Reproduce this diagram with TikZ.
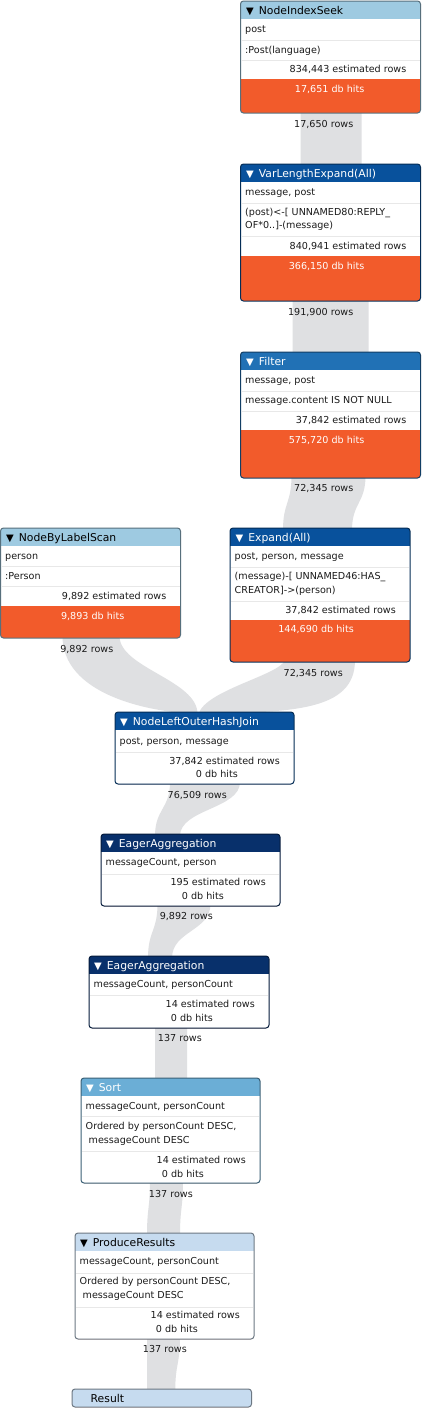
\documentclass[tikz,border=0pt]{standalone}
\usepackage{fontspec}
\setmainfont{DejaVu Sans}
\usetikzlibrary{calc,positioning}
\definecolor{hdLight}{HTML}{9ECAE1}
\definecolor{hdDeep}{HTML}{08519C}
\definecolor{hdMid}{HTML}{2171B5}
\definecolor{hdNavy}{HTML}{08306B}
\definecolor{hdSoft}{HTML}{6BAED6}
\definecolor{hdPale}{HTML}{C6DBEF}
\definecolor{hitsOrange}{HTML}{F25B2B}
\definecolor{planPipe}{HTML}{DFE0E2}
\definecolor{planSep}{HTML}{E8E8E8}
\definecolor{planInk}{HTML}{1A1A1A}
\newcommand{\bodyfont}{\fontsize{9.6}{13.4}\selectfont}
\newcommand{\hdfont}{\fontsize{10.8}{12}\selectfont}
\newcommand{\hdtri}{{\fontsize{10}{10}\selectfont ▼}\hspace{5pt}}
% white card, coloured header strip, orange db-hits strip, border
\newcommand{\opbody}[3]{%
  \begin{scope}
    \clip[rounded corners=3pt] (#1.north west) rectangle (#1.south east);
    \fill[white] (#1.north west) rectangle (#1.south east);
    \fill[#2] (#1.north west) rectangle ($(#1.north east)+(0,18)$);
    \fill[hitsOrange] ($(#1.south west)+(0,-#3)$) rectangle (#1.south east);
  \end{scope}
  \draw[rounded corners=3pt, line width=1pt, draw=#2!55!black] (#1.north west) rectangle (#1.south east);}
% grey row-count ribbon from the bottom of one operator to the top of the next
\newcommand{\planpipe}[6]{%
  \fill[pipe] let \p1=(#1.south), \p2=(#4.north), \p3=($(#1.south)!0.5!(#4.north)$) in
    (\x1+#2pt,\y1+2pt) .. controls (\x1+#2pt,\y3) and (\x2+#5pt,\y3) .. (\x2+#5pt,\y2-2pt)
    -- (\x2+#6pt,\y2-2pt) .. controls (\x2+#6pt,\y3) and (\x1+#3pt,\y3) .. (\x1+#3pt,\y1+2pt) -- cycle;}
\pgfdeclarelayer{pipes}
\pgfsetlayers{pipes,main}
\tikzset{
    opframe/.style={rectangle, anchor=north west, inner sep=0pt, outer sep=0pt, minimum width=180pt},
    hdtext/.style={anchor=west, inner sep=0pt, font=\hdfont, text height=8.2pt, text depth=0.6pt},
    celltext/.style={anchor=west, inner sep=0pt, font=\bodyfont, text=planInk, text height=7.4pt, text depth=0.8pt},
    wraptext/.style={anchor=west, inner sep=0pt, font=\bodyfont, text=planInk, align=left},
    esttext/.style={anchor=east, inner sep=0pt, font=\bodyfont, text=planInk, text height=7.4pt, text depth=0.8pt},
    hitstext/.style={esttext, text=white},
    rowslabel/.style={esttext},
    sepline/.style={draw=planSep, line width=0.8pt},
    pipe/.style={fill=planPipe}
}
\begin{document}
\begin{tikzpicture}[x=1pt,y=-1pt]
\useasboundingbox (0,0) rectangle (422,1408);

% NodeIndexSeek
\node[opframe, minimum height=112pt] (seek) at (240.5,1) {};
\opbody{seek}{hdLight}{34}
\foreach \s in {39,59} \draw[sepline] ($(seek.north west)+(1,\s)$) -- ($(seek.north east)+(-1,\s)$);
\node[hdtext, text=black] (seekHd) at ($(seek.north west)+(5.5,9.5)$) {\hdtri NodeIndexSeek};
\node[celltext] (seekC1) at ($(seek.north west)+(4.5,28.5)$) {post};
\node[celltext] (seekC2) at ($(seek.north west)+(4.5,49)$) {:Post(language)};
\node[esttext] (seekEst) at ($(seek.north west)+(166,68.5)$) {834,443 estimated rows};
\node[hitstext] (seekHits) at ($(seek.north west)+(124,88)$) {17,651 db hits};
\node[rowslabel] (seekRows) at ($(seek.south west)+(113,11.5)$) {17,650 rows};

% VarLengthExpand(All)
\node[opframe, minimum height=137pt] (varlen) at (240.5,164) {};
\opbody{varlen}{hdDeep}{45}
\foreach \s in {39,72} \draw[sepline] ($(varlen.north west)+(1,\s)$) -- ($(varlen.north east)+(-1,\s)$);
\node[hdtext, text=white] (varlenHd) at ($(varlen.north west)+(5.5,9.5)$) {\hdtri VarLengthExpand(All)};
\node[celltext] (varlenC1) at ($(varlen.north west)+(4.5,28.5)$) {message, post};
\node[wraptext] (varlenC2) at ($(varlen.north west)+(4.5,55.5)$) {(post)<-[ UNNAMED80:REPLY\_\\OF*0..]-(message)};
\node[esttext] (varlenEst) at ($(varlen.north west)+(166,82.5)$) {840,941 estimated rows};
\node[hitstext] (varlenHits) at ($(varlen.north west)+(124,102.5)$) {366,150 db hits};
\node[rowslabel] (varlenRows) at ($(varlen.south west)+(113,11.3)$) {191,900 rows};

% Filter
\node[opframe, minimum height=126pt] (filter) at (240.5,352) {};
\opbody{filter}{hdMid}{48}
\foreach \s in {39,59} \draw[sepline] ($(filter.north west)+(1,\s)$) -- ($(filter.north east)+(-1,\s)$);
\node[hdtext, text=white] (filterHd) at ($(filter.north west)+(5.5,9.5)$) {\hdtri Filter};
\node[celltext] (filterC1) at ($(filter.north west)+(4.5,28.5)$) {message, post};
\node[celltext] (filterC2) at ($(filter.north west)+(4.5,48)$) {message.content IS NOT NULL};
\node[esttext] (filterEst) at ($(filter.north west)+(166,68.5)$) {37,842 estimated rows};
\node[hitstext] (filterHits) at ($(filter.north west)+(124,88.5)$) {575,720 db hits};
\node[rowslabel] (filterRows) at ($(filter.south west)+(113,10.5)$) {72,345 rows};

% NodeByLabelScan
\node[opframe, minimum height=110pt] (labelscan) at (0.5,528) {};
\opbody{labelscan}{hdLight}{32}
\foreach \s in {38.5,58.5} \draw[sepline] ($(labelscan.north west)+(1,\s)$) -- ($(labelscan.north east)+(-1,\s)$);
\node[hdtext, text=black] (labelscanHd) at ($(labelscan.north west)+(5.5,9.5)$) {\hdtri NodeByLabelScan};
\node[celltext] (labelscanC1) at ($(labelscan.north west)+(4.5,28)$) {person};
\node[celltext] (labelscanC2) at ($(labelscan.north west)+(4.5,48)$) {:Person};
\node[esttext] (labelscanEst) at ($(labelscan.north west)+(166,68.5)$) {9,892 estimated rows};
\node[hitstext] (labelscanHits) at ($(labelscan.north west)+(124,88.5)$) {9,893 db hits};
\node[rowslabel] (labelscanRows) at ($(labelscan.south west)+(113,11.3)$) {9,892 rows};

% Expand(All)
\node[opframe, minimum height=134pt] (expand) at (230,528) {};
\opbody{expand}{hdDeep}{42.5}
\foreach \s in {39,73} \draw[sepline] ($(expand.north west)+(1,\s)$) -- ($(expand.north east)+(-1,\s)$);
\node[hdtext, text=white] (expandHd) at ($(expand.north west)+(5.5,9.5)$) {\hdtri Expand(All)};
\node[celltext] (expandC1) at ($(expand.north west)+(4.5,28)$) {post, person, message};
\node[wraptext] (expandC2) at ($(expand.north west)+(4.5,55.7)$) {(message)-[ UNNAMED46:HAS\_\\CREATOR]->(person)};
\node[esttext] (expandEst) at ($(expand.north west)+(166,82)$) {37,842 estimated rows};
\node[hitstext] (expandHits) at ($(expand.north west)+(124,101)$) {144,690 db hits};
\node[rowslabel] (expandRows) at ($(expand.south west)+(113,10.7)$) {72,345 rows};

% NodeLeftOuterHashJoin
\node[opframe, minimum width=179pt, minimum height=72pt] (join) at (115,712) {};
\opbody{join}{hdDeep}{0}
\draw[sepline] ($(join.north west)+(1,40.3)$) -- ($(join.north east)+(-1,40.3)$);
\node[hdtext, text=white] (joinHd) at ($(join.north west)+(5,9.5)$) {\hdtri NodeLeftOuterHashJoin};
\node[celltext] (joinC1) at ($(join.north west)+(4.5,29)$) {post, person, message};
\node[esttext] (joinEst) at ($(join.north west)+(165,48.7)$) {37,842 estimated rows};
\node[esttext] (joinHits) at ($(join.north west)+(123,62)$) {0 db hits};
\node[rowslabel] (joinRows) at ($(join.south west)+(112,11)$) {76,509 rows};

% EagerAggregation (person)
\node[opframe, minimum width=179pt, minimum height=72pt] (aggone) at (101,834) {};
\opbody{aggone}{hdNavy}{0}
\draw[sepline] ($(aggone.north west)+(1,40.3)$) -- ($(aggone.north east)+(-1,40.3)$);
\node[hdtext, text=white] (aggoneHd) at ($(aggone.north west)+(5,9.5)$) {\hdtri EagerAggregation};
\node[celltext] (aggoneC1) at ($(aggone.north west)+(4.5,28.3)$) {messageCount, person};
\node[esttext] (aggoneEst) at ($(aggone.north west)+(165,48.3)$) {195 estimated rows};
\node[esttext] (aggoneHits) at ($(aggone.north west)+(123,62)$) {0 db hits};
\node[rowslabel] (aggoneRows) at ($(aggone.south west)+(112,10)$) {9,892 rows};

% EagerAggregation (personCount)
\node[opframe, minimum height=72pt] (aggtwo) at (89,956) {};
\opbody{aggtwo}{hdNavy}{0}
\draw[sepline] ($(aggtwo.north west)+(1,39.7)$) -- ($(aggtwo.north east)+(-1,39.7)$);
\node[hdtext, text=white] (aggtwoHd) at ($(aggtwo.north west)+(5,9.5)$) {\hdtri EagerAggregation};
\node[celltext] (aggtwoC1) at ($(aggtwo.north west)+(4.5,28)$) {messageCount, personCount};
\node[esttext] (aggtwoEst) at ($(aggtwo.north west)+(166,48.3)$) {14 estimated rows};
\node[esttext] (aggtwoHits) at ($(aggtwo.north west)+(124,62.3)$) {0 db hits};
\node[rowslabel] (aggtwoRows) at ($(aggtwo.south west)+(113,10)$) {137 rows};

% Sort
\node[opframe, minimum width=179pt, minimum height=105pt] (sort) at (81,1078) {};
\opbody{sort}{hdSoft}{0}
\foreach \s in {38.5,73} \draw[sepline] ($(sort.north west)+(1,\s)$) -- ($(sort.north east)+(-1,\s)$);
\node[hdtext, text=white] (sortHd) at ($(sort.north west)+(5,9.5)$) {\hdtri Sort};
\node[celltext] (sortC1) at ($(sort.north west)+(4.5,28)$) {messageCount, personCount};
\node[wraptext] (sortC2) at ($(sort.north west)+(4.5,55.7)$) {Ordered by personCount DESC,\\\hspace*{3pt}messageCount DESC};
\node[esttext] (sortEst) at ($(sort.north west)+(165,82)$) {14 estimated rows};
\node[esttext] (sortHits) at ($(sort.north west)+(123,96.3)$) {0 db hits};
\node[rowslabel] (sortRows) at ($(sort.south west)+(112,11)$) {137 rows};

% ProduceResults
\node[opframe, minimum width=179pt, minimum height=106pt] (produce) at (75,1233) {};
\opbody{produce}{hdPale}{0}
\foreach \s in {40,74} \draw[sepline] ($(produce.north west)+(1,\s)$) -- ($(produce.north east)+(-1,\s)$);
\node[hdtext, text=black] (produceHd) at ($(produce.north west)+(5,9.5)$) {\hdtri ProduceResults};
\node[celltext] (produceC1) at ($(produce.north west)+(4.5,28)$) {messageCount, personCount};
\node[wraptext] (produceC2) at ($(produce.north west)+(4.5,55.7)$) {Ordered by personCount DESC,\\\hspace*{3pt}messageCount DESC};
\node[esttext] (produceEst) at ($(produce.north west)+(165,82)$) {14 estimated rows};
\node[esttext] (produceHits) at ($(produce.north west)+(123,96)$) {0 db hits};
\node[rowslabel] (produceRows) at ($(produce.south west)+(112,10)$) {137 rows};

% Result
\node[opframe, minimum width=179.5pt, minimum height=18pt] (result) at (72,1389) {};
\opbody{result}{hdPale}{0}
\node[hdtext, text=black] (resultHd) at ($(result.north west)+(18.5,9.3)$) {Result};

% row-count ribbons, behind the cards
\begin{pgfonlayer}{pipes}
\fill[white] (0,0) rectangle (422,1408);
\planpipe{seek}{-30}{31}{varlen}{-30}{31}
\planpipe{varlen}{-38}{38}{filter}{-38}{38}
\planpipe{filter}{-39}{35}{expand}{-37}{32}
\fill[pipe] ($(labelscan.south)+(-28,-2)$) .. controls ($(labelscan.south)+(-28,55)$) and ($(join.north)+(-60,0)$) .. ($(join.north)+(-7,2)$)
  .. controls ($(join.north)+(-7,-32)$) and ($(labelscan.south)+(29,30)$) .. ($(labelscan.south)+(29,-2)$) -- cycle;
\fill[pipe] ($(expand.south)+(-35,-2)$) .. controls ($(expand.south)+(-40,13)$) and ($(join.north)+(1,-22)$) .. ($(join.north)+(-6,2)$)
  .. controls ($(join.north)+(85.5,0)$) and ($(expand.south)+(35,50)$) .. ($(expand.south)+(35,-2)$) -- cycle;
\planpipe{join}{-34.5}{35.5}{aggone}{-35.5}{-10.5}
\planpipe{aggone}{-33}{20}{aggtwo}{-31}{-7}
\planpipe{aggtwo}{-24}{8}{sort}{-15.5}{16.5}
\planpipe{sort}{-20.5}{12.5}{produce}{-17.5}{15.5}
\planpipe{produce}{-17.5}{15.5}{result}{-14.5}{13.5}
\end{pgfonlayer}

\end{tikzpicture}
\end{document}
